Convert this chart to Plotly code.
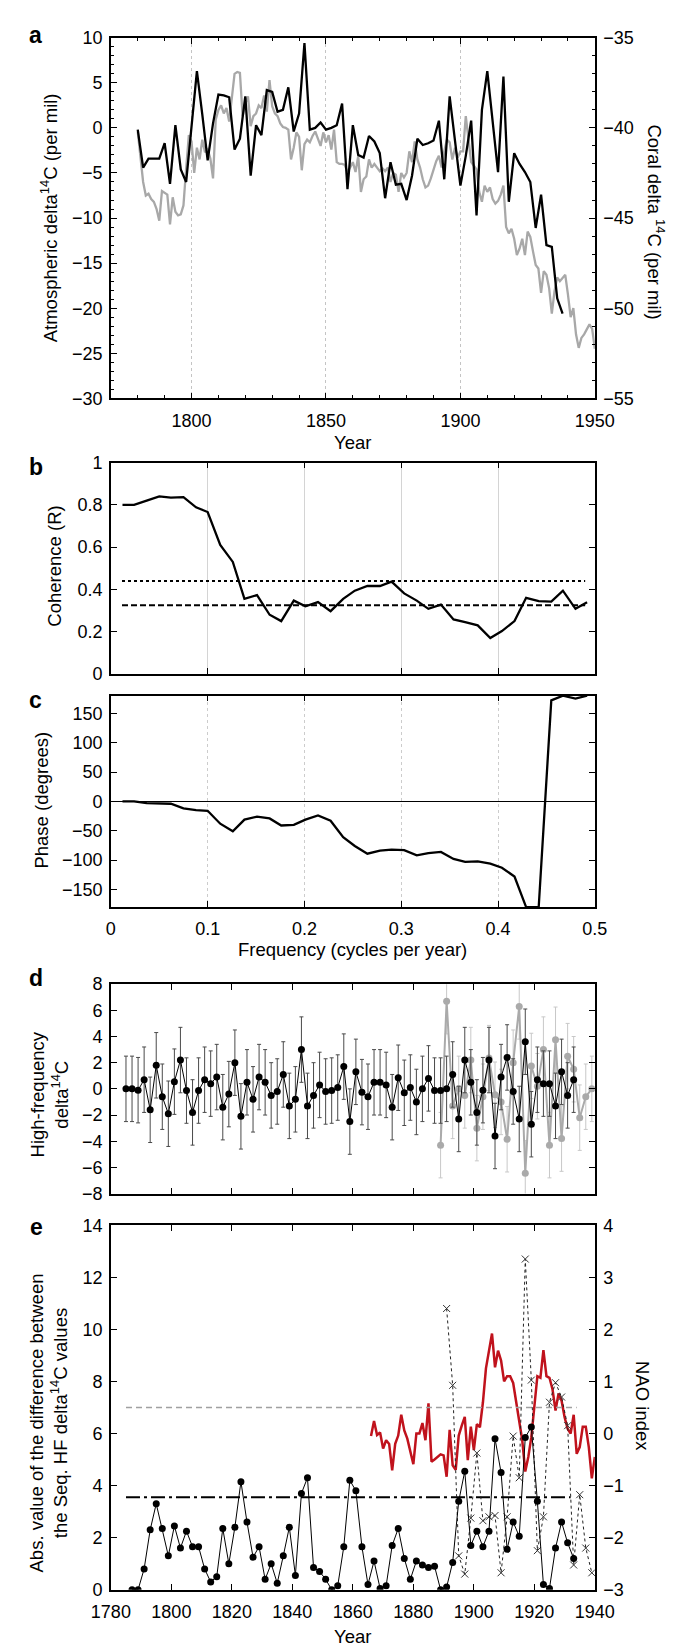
import plotly.graph_objects as go

# ---------------- data ----------------
# panel a: atmospheric (left axis) and coral (right axis) delta14C
atm_years = list(range(1780, 1951))
atm_d14c = [
    -0.4, -3.0, -6.0, -7.5, -7.3, -7.9, -8.2, -9.0, -10.3, -7.0,
    -7.2, -7.4, -10.7, -7.7, -9.3, -9.7, -9.6, -8.6, -4.5, -0.8,
    -1.5, -5.0, -2.2, -3.5, -1.3, -2.7, -2.4, -3.4, -5.6, 0.9,
    2.0, 2.5, 1.6, 2.2, 0.7, 3.3, 6.0, 6.2, 6.1, 1.3,
    2.7, 3.5, 0.2, 1.3, 1.6, 2.5, 2.2, 3.6, 1.8, 5.3,
    2.4, 1.6, 1.3, 0.5, 0.1, 0.0, -0.2, -3.5, -2.2, -0.5,
    -1.0, -4.7, -1.8, -1.3, -1.6, -0.9, -0.4, -1.2, -2.0, -0.5,
    -1.6, -0.8, -2.4, -0.2, -3.8, -4.0, -4.0, -4.1, -4.9, -4.4,
    -3.8, -4.9, -3.1, -7.1, -5.7, -5.4, -3.5, -4.4, -4.0, -4.4,
    -4.8, -4.5, -4.8, -4.4, -6.0, -5.0, -5.2, -7.1, -5.0, -5.5,
    -5.0, -2.6, -3.8, -1.5, -3.5, -4.4, -5.7, -6.6, -6.4, -5.6,
    -4.6, -3.7, -3.1, -4.4, -2.6, -1.3, -1.6, -3.5, -2.2, -3.3,
    -2.6, -2.6, 1.3, -1.6, -3.8, -4.2, -4.6, -7.1, -8.2, -6.4,
    -7.1, -6.6, -7.9, -8.4, -8.1, -7.4, -6.4, -11.0, -11.7, -11.2,
    -12.3, -14.1, -13.4, -12.3, -14.1, -11.5, -12.1, -13.7, -15.2, -15.6,
    -18.3, -15.9, -16.3, -17.8, -20.6, -18.1, -16.6, -17.0, -16.7, -16.3,
    -18.5, -21.0, -20.0, -22.9, -24.4, -23.3, -22.9, -22.3, -21.8, -22.3,
    -24.5,
]
coral_years = list(range(1780, 1939, 2))
coral_d14c = [
    -40.1, -42.2, -41.7, -41.7, -41.7, -40.85, -43.1, -39.85, -42.3, -43.0,
    -40.0, -36.85, -39.25, -41.8, -39.75, -38.15, -38.2, -38.3, -41.2, -40.6,
    -38.25, -42.65, -39.85, -40.4, -37.9, -38.0, -39.1, -39.0, -37.75, -40.2,
    -39.2, -35.3, -40.1, -40.0, -39.7, -40.1, -40.0, -39.85, -38.65, -43.4,
    -39.85, -41.5, -41.65, -40.45, -40.75, -41.4, -43.9, -41.9, -43.15, -43.1,
    -44.0, -42.65, -40.6, -40.95, -40.85, -40.7, -39.6, -42.85, -38.25, -40.65,
    -43.2, -41.55, -39.6, -44.85, -39.0, -36.85, -39.65, -42.45, -37.15, -44.1,
    -41.4, -42.0, -42.45, -43.0, -45.55, -43.7, -46.5, -46.6, -49.45, -50.3,
]

# panels b, c: coherence and phase spectra
freq = [0.012, 0.024, 0.037, 0.050, 0.062, 0.075, 0.088, 0.100, 0.113, 0.126,
        0.138, 0.151, 0.164, 0.176, 0.189, 0.201, 0.214, 0.227, 0.240, 0.252,
        0.265, 0.278, 0.290, 0.303, 0.316, 0.328, 0.341, 0.354, 0.366, 0.379,
        0.392, 0.404, 0.417, 0.429, 0.442, 0.455, 0.467, 0.480, 0.492]
coherence = [0.80, 0.80, 0.82, 0.84, 0.834, 0.836, 0.788, 0.766, 0.61, 0.53,
             0.355, 0.373, 0.28, 0.25, 0.347, 0.32, 0.34, 0.297, 0.355, 0.394,
             0.416, 0.416, 0.437, 0.381, 0.347, 0.308, 0.328, 0.258, 0.245, 0.23,
             0.17, 0.203, 0.25, 0.36, 0.344, 0.342, 0.394, 0.308, 0.339]
phase = [0, 0, -3, -4, -4, -12, -15, -16, -38, -51,
         -31, -26, -29, -41, -40, -31, -24, -33, -61, -76,
         -89, -84, -82, -83, -92, -88, -86, -98, -103, -102,
         -106, -113, -128, -180, -180, 172, 180, 175, 180]
coh_level_dotted = 0.44
coh_level_dashed = 0.325
coh_level_span = [0.0115, 0.49]

# panel d: high-frequency delta14C
hf_years = list(range(1785, 1934, 2))
hf_seq = [0.0, 0.0, -0.1, 0.7, -1.6, 1.8, -0.6, -1.9, 0.55, 2.2,
          -0.13, -1.8, -0.13, 0.7, 0.4, 0.9, -1.4, -0.4, 2.0, -2.1,
          0.5, -0.8, 0.9, 0.5, -0.5, -0.2, 1.1, -1.3, -0.8, 3.0,
          -1.3, -0.5, 0.3, -0.2, -0.13, 0.1, 1.7, -2.5, 1.3, -0.25,
          -0.6, 0.5, 0.5, 0.3, -1.4, 0.85, -0.3, 0.1, -1.0, 0.0,
          0.8, -0.13, -0.13, 0.0, 1.1, -2.3, 2.2, 0.5, -1.8, -0.1,
          2.2, -3.6, 0.9, 2.4, -0.2, -2.3, 3.6, -2.7, 0.7, 0.4,
          0.4, -1.3, 1.3, -0.5, 0.7]
hf2_years = list(range(1889, 1940, 2))
hf2 = [-4.3, 6.7, -1.3, 0.0, -0.5, 2.2, -3.0, -0.6, 2.35, -0.45,
       -1.0, -3.85, 2.0, 6.3, -6.45, 1.75, 0.2, 3.0, -4.3, 3.75,
       -3.8, 2.5, 1.5, -2.2, -0.6, 0.0]
hf_err = 2.5

# panel e: absolute differences and NAO index
diff_years = list(range(1787, 1934, 2))
diff_seq = [0.0, 0.0, 0.8, 2.3, 3.3, 2.35, 1.3, 2.45, 1.6, 2.25,
            1.65, 1.65, 0.8, 0.3, 0.5, 2.35, 1.0, 2.4, 4.15, 2.6,
            1.25, 1.65, 0.4, 1.0, 0.25, 1.3, 2.4, 0.55, 3.7, 4.3,
            0.85, 0.7, 0.4, 0.0, 0.15, 1.65, 4.2, 3.8, 1.65, 0.2,
            1.1, 0.05, 0.15, 1.7, 2.35, 1.2, 0.4, 1.1, 0.95, 0.85,
            0.9, 0.0, 0.1, 1.05, 3.4, 4.55, 1.7, 2.25, 1.65, 2.25,
            5.8, 4.5, 1.55, 2.6, 2.05, 5.85, 6.25, 3.4, 0.2, 0.05,
            1.6, 2.6, 1.8, 1.2]
diff2_years = list(range(1891, 1940, 2))
diff2 = [10.8, 7.85, 1.3, 0.6, 2.75, 5.25, 2.65, 2.8, 2.85, 0.65,
         2.8, 5.9, 4.3, 12.7, 8.05, 1.5, 2.8, 7.2, 7.95, 7.4,
         6.3, 0.95, 3.65, 1.6, 0.65]
nao_years = list(range(1866, 1941))
nao = [-0.05, 0.24, -0.03, 0.02, -0.29, -0.13, -0.2, -0.71, -0.2, -0.04,
       0.36, 0.06, -0.1, -0.34, -0.59, 0.0, 0.0, 0.2, -0.13, 0.58,
       -0.54, -0.5, -0.45, -0.4, -0.42, -0.83, 0.07, -0.61, -0.7, -0.04,
       0.15, 0.32, -0.51, 0.13, -0.32, 0.18, 0.12, 0.6, 1.25, 1.57,
       1.92, 1.27, 1.59, 1.4, 1.0, 1.1, 1.1, 0.97, 0.6, 0.31,
       -0.13, -0.73, -0.45, -0.07, 0.5, 1.1, 1.07, 1.6, 1.1, 1.07,
       0.85, 0.44, 0.77, 0.63, 0.31, 0.09, 0.0, 0.36, -0.39, -0.26,
       0.13, 0.13, -0.26, -0.86, -0.45]
diff_level_gray = 7.0
diff_level_gray_span = [1785, 1934]
diff_level_black = 3.55
diff_level_black_span = [1785, 1932]

# ---------------- layout helpers (pixels) ----------------
W, H = 685, 1650
L, R = 88, 602
FONT = "Liberation Sans, Arial, Helvetica, sans-serif"


def yd(top, bot):
    return [1 - bot / H, 1 - top / H]


def px(x):
    return x / W


def py(y):
    return 1 - y / H


tickfont = dict(family=FONT, size=18, color="black")
base = dict(showline=True, linecolor="black", linewidth=1.5, ticks="inside",
            tickcolor="black", ticklen=6, tickwidth=1, tickfont=tickfont,
            zeroline=False, showgrid=False, domain=[L / W, R / W])

fig = go.Figure()

# panel a
fig.add_trace(go.Scatter(x=atm_years, y=atm_d14c, mode="lines",
                         line=dict(color="#a8a8a8", width=2.3),
                         xaxis="x", yaxis="y", showlegend=False))
fig.add_trace(go.Scatter(x=coral_years, y=coral_d14c, mode="lines",
                         line=dict(color="black", width=2.3),
                         xaxis="x", yaxis="y2", showlegend=False))

# panel b
fig.add_trace(go.Scatter(x=coh_level_span, y=[coh_level_dotted] * 2, mode="lines",
                         line=dict(color="black", width=2, dash="dot"),
                         xaxis="x2", yaxis="y3", showlegend=False))
fig.add_trace(go.Scatter(x=coh_level_span, y=[coh_level_dashed] * 2, mode="lines",
                         line=dict(color="black", width=2, dash="6px,3px"),
                         xaxis="x2", yaxis="y3", showlegend=False))
fig.add_trace(go.Scatter(x=freq, y=coherence, mode="lines",
                         line=dict(color="black", width=2.3),
                         xaxis="x2", yaxis="y3", showlegend=False))

# panel c
fig.add_trace(go.Scatter(x=freq, y=phase, mode="lines",
                         line=dict(color="black", width=2.3),
                         xaxis="x3", yaxis="y4", showlegend=False))

# panel d
fig.add_trace(go.Scatter(x=hf2_years, y=hf2, mode="lines+markers",
                         line=dict(color="#aaaaaa", width=2),
                         marker=dict(color="#aaaaaa", size=7),
                         error_y=dict(type="constant", value=hf_err, color="#c8c8c8",
                                      thickness=1, width=2),
                         xaxis="x4", yaxis="y5", showlegend=False))
fig.add_trace(go.Scatter(x=hf_years, y=hf_seq, mode="lines+markers",
                         line=dict(color="black", width=1),
                         marker=dict(color="black", size=7),
                         error_y=dict(type="constant", value=hf_err, color="#4a4a4a",
                                      thickness=1, width=2),
                         xaxis="x4", yaxis="y5", showlegend=False))

# panel e (NAO on base right axis, differences on overlaying left axis)
fig.add_trace(go.Scatter(x=nao_years, y=nao, mode="lines",
                         line=dict(color="#c0121c", width=2.5),
                         xaxis="x5", yaxis="y6", showlegend=False))
fig.add_trace(go.Scatter(x=diff_level_gray_span, y=[diff_level_gray] * 2, mode="lines",
                         line=dict(color="#a0a0a0", width=1.5, dash="6px,4px"),
                         xaxis="x5", yaxis="y7", showlegend=False))
fig.add_trace(go.Scatter(x=diff_level_black_span, y=[diff_level_black] * 2, mode="lines",
                         line=dict(color="black", width=2, dash="14px,4px,3px,4px"),
                         xaxis="x5", yaxis="y7", showlegend=False))
fig.add_trace(go.Scatter(x=diff2_years, y=diff2, mode="lines+markers",
                         line=dict(color="#222222", width=1, dash="3px,3px"),
                         marker=dict(symbol="x-thin-open", size=7, color="#333333",
                                     line=dict(width=1, color="#333333")),
                         xaxis="x5", yaxis="y7", showlegend=False))
fig.add_trace(go.Scatter(x=diff_years, y=diff_seq, mode="lines+markers",
                         line=dict(color="black", width=1),
                         marker=dict(color="black", size=7),
                         xaxis="x5", yaxis="y7", showlegend=False))

minor_in = dict(ticks="inside", ticklen=3.5, tickcolor="black")

layout = dict(
    width=W, height=H, margin=dict(l=0, r=0, t=0, b=0),
    paper_bgcolor="white", plot_bgcolor="white",
    font=dict(family=FONT, size=18, color="black"),
    # panel a
    xaxis=dict(base, anchor="y", range=[1770, 1950], tick0=1800, dtick=50,
               mirror="ticks", minor=dict(minor_in, dtick=10),
               showgrid=True, gridcolor="#c4c4c4", griddash="dot", gridwidth=1,
               ticklabelstandoff=5),
    yaxis=dict(base, domain=yd(20, 385), anchor="x", range=[-30, 10], dtick=5,
               minor=dict(minor_in, dtick=1), ticklabelstandoff=3),
    yaxis2=dict(base, domain=yd(20, 385), anchor="x", overlaying="y", side="right",
                range=[-55, -35], dtick=5, minor=dict(minor_in, dtick=1),
                ticklabelstandoff=3),
    # panel b
    xaxis2=dict(base, anchor="y3", range=[0, 0.5], dtick=0.1, mirror="ticks",
                showticklabels=False, showgrid=True, gridcolor="#d4d4d4", gridwidth=1),
    yaxis3=dict(base, domain=yd(450, 664), anchor="x2", range=[0, 1], dtick=0.2,
                mirror="ticks", ticklabelstandoff=3),
    # panel c
    xaxis3=dict(base, anchor="y4", range=[0, 0.5], dtick=0.1, mirror="ticks",
                showgrid=True, gridcolor="#cccccc", griddash="dot", gridwidth=1,
                ticklabelstandoff=5),
    yaxis4=dict(base, domain=yd(686, 900), anchor="x3", range=[-180, 180],
                tickvals=[-150, -100, -50, 0, 50, 100, 150], mirror="ticks",
                zeroline=True, zerolinecolor="black", zerolinewidth=1,
                ticklabelstandoff=3),
    # panel d
    xaxis4=dict(base, anchor="y5", range=[1780, 1940], dtick=20, mirror="ticks",
                showticklabels=False),
    yaxis5=dict(base, domain=yd(978, 1190), anchor="x4", range=[-8, 8], dtick=2,
                mirror="ticks", ticklabelstandoff=3),
    # panel e
    xaxis5=dict(base, anchor="y6", range=[1780, 1940], dtick=20, mirror="ticks",
                ticklabelstandoff=5),
    yaxis6=dict(base, domain=yd(1222, 1591), anchor="x5", side="right",
                range=[-3, 4], dtick=1, ticklabelstandoff=3),
    yaxis7=dict(base, domain=yd(1222, 1591), anchor="x5", overlaying="y6",
                side="left", range=[0, 14], dtick=2, ticklabelstandoff=3),
)
fig.update_layout(**layout)

TF = dict(family=FONT, size=18.5, color="black")
ann = []


def title(text, x, y, angle=0):
    ann.append(dict(text=text, x=px(x), y=py(y), xref="paper", yref="paper",
                    showarrow=False, textangle=angle, font=TF,
                    xanchor="center", yanchor="middle"))


def letter(text, x, y):
    ann.append(dict(text="<b>%s</b>" % text, x=px(x), y=py(y), xref="paper",
                    yref="paper", showarrow=False,
                    font=dict(family=FONT, size=23, color="black"),
                    xanchor="center", yanchor="middle"))


title("Atmospheric delta<sup>14</sup>C (per mil)", 22, 202, -90)
title("Coral delta <sup>14</sup>C (per mil)", 667, 206, 90)
title("Year", 345, 430)
title("Coherence (R)", 28, 555, -90)
title("Phase (degrees)", 14, 792, -90)
title("Frequency (cycles per year)", 345, 943)
title("High-frequency<br>delta<sup>14</sup>C", 23, 1090, -90)
title("Abs. value of the difference between<br>the Seq. HF delta<sup>14</sup>C values",
      22, 1422, -90)
title("NAO index", 652, 1405, 90)
title("Year", 345, 1638)

letter("a", 8, 17)
letter("b", 8, 455)
letter("c", 8, 690)
letter("d", 9, 972)
letter("e", 9, 1224)

fig.update_layout(annotations=ann)
fig.write_html("out.html")
